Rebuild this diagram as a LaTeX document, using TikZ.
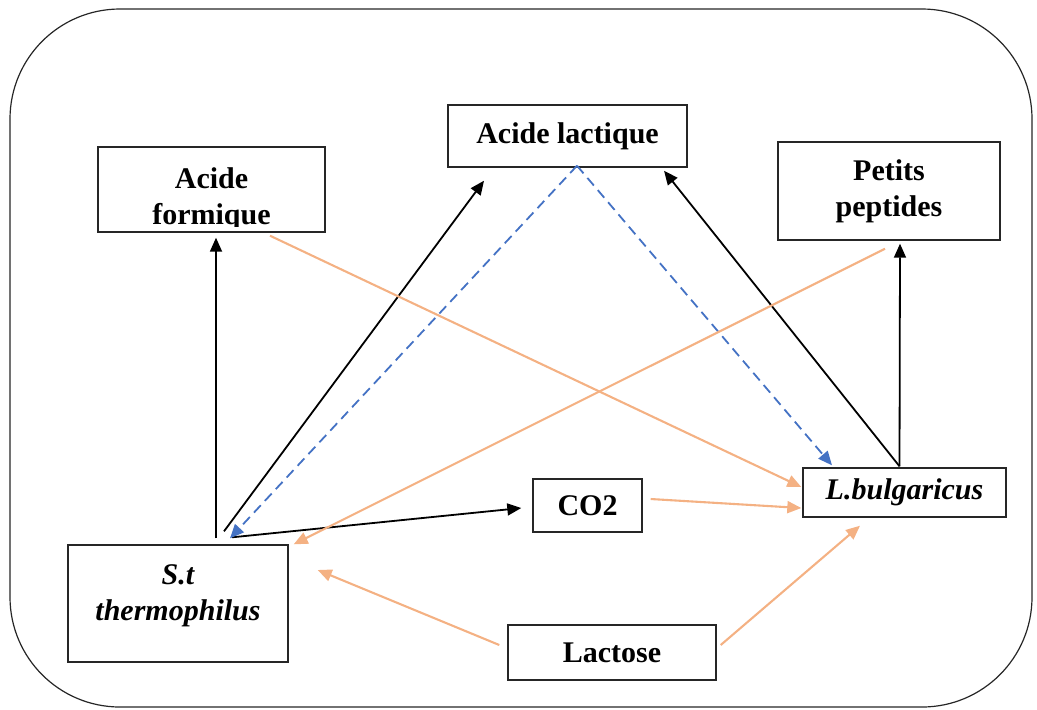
\documentclass[tikz,border=0pt]{standalone}
\usepackage{fontspec}
\setmainfont{Liberation Serif}
\usetikzlibrary{arrows.meta,calc}
\definecolor{orng}{RGB}{244,177,131}
\definecolor{blu}{RGB}{68,114,196}
\begin{document}
\begin{tikzpicture}[x=0.5pt,y=-0.5pt,
  bx/.style={draw=black!85,line width=0.7pt,rectangle,inner sep=0pt,align=center,
    font=\fontsize{15}{18}\selectfont\bfseries},
  txt/.style={inner sep=0pt,align=center,font=\fontsize{15}{18}\selectfont\bfseries},
  blk/.style={draw=black,line width=0.9pt,-{Triangle[length=7pt,width=6pt]}},
  org/.style={draw=orng,line width=1.05pt,-{Triangle[length=7pt,width=6pt]}},
  bld/.style={draw=blu,line width=0.9pt,dash pattern=on 5pt off 3pt,-{Triangle[length=7pt,width=6pt]}}]
\useasboundingbox (0,0) rectangle (1037,709);
\draw[draw=black!85,line width=0.6pt,rounded corners=55pt] (10,9) rectangle (1032,707);
% boxes
\node[bx,minimum width=113.5pt,minimum height=42.5pt] (af) at (211.5,189.5) {};
\begin{scope}
\clip (98,147) rectangle (325,226);
\node[txt] (aft) at (211.5,199) {Acide\\formique};
\end{scope}
\node[bx,minimum width=119.5pt,minimum height=31pt] (al) at (567.5,136) {Acide lactique};
\node[bx,minimum width=111pt,minimum height=49pt] (pp) at (889,191) {Petits\\peptides};
\node[bx,minimum width=101.5pt,minimum height=24.5pt] (lb) at (904.5,492.5) {\itshape L.bulgaricus};
\node[bx,minimum width=54.5pt,minimum height=26.5pt] (co) at (587.5,505.5) {CO2};
\node[bx,minimum width=110pt,minimum height=58.5pt] (st) at (178,603.5) {};
\node[txt] (stt) at (178,596) {\itshape S.t\\\itshape thermophilus};
\node[bx,minimum width=104pt,minimum height=27.5pt] (la) at (612,652.5) {Lactose};
% black arrows
\draw[blk] ($(st.north)+(38,-6)$) -- ($(af.south)+(4.5,5)$);
\draw[blk] ($(st.north)+(46,-13)$) -- ($(al.south)+(-83.5,13)$);
\draw[blk] ($(st.north)+(54,-7)$) -- ($(co.west)+(-11,2.5)$);
\draw[blk] ($(lb.north)+(-5,-1)$) -- ($(al.south)+(96.5,3)$);
\draw[blk] ($(lb.north)+(-5,-1)$) -- ($(pp.south)+(11,3)$);
% blue dashed
\draw[bld] ($(al.south)+(9.5,-2)$) -- ($(st.north)+(52,-6)$);
\draw[bld] ($(al.south)+(9.5,-2)$) -- ($(lb.north)+(-72.5,-2)$);
% orange
\draw[org] ($(af.south)+(58.5,3)$) -- ($(lb.west)+(-1,-5.5)$);
\draw[org] ($(pp.south)+(-4,8)$) -- ($(st.north east)+(5,0)$);
\draw[org] ($(co.east)+(8,-6.5)$) -- ($(lb.west)+(-1,15.5)$);
\draw[org] ($(la.west)+(-8,-7.5)$) -- ($(st.east)+(29,-33.5)$);
\draw[org] ($(la.east)+(4,-7.5)$) -- ($(lb.south)+(-44.5,8)$);
\end{tikzpicture}
\end{document}
